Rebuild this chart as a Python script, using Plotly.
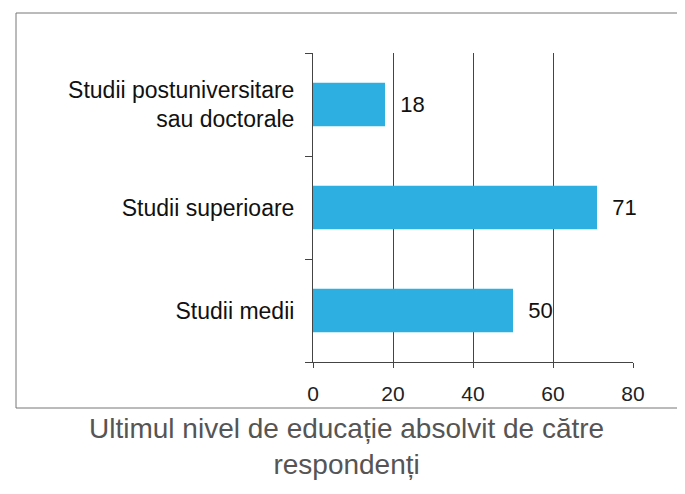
import plotly.graph_objects as go

categorii = ["Studii medii", "Studii superioare", "Studii postuniversitare<br>sau doctorale"]
valori = [50, 71, 18]
x_ticks = [0, 20, 40, 60, 80]

L, R, T, B = 305, 60, 45, 140
W, H = 685, 494
pw = W - L - R
ph = H - T - B


def px(x):
    return (x - L) / pw


def py(y):
    return (H - B - y) / ph


fig = go.Figure(go.Bar(
    x=valori,
    y=categorii,
    orientation="h",
    marker=dict(color="#2eafe2", line=dict(width=0)),
    width=0.42,
    text=["  " + str(v) for v in valori],
    textposition="outside",
    textfont=dict(size=22, color="#111111", family="Liberation Sans, Arial"),
    cliponaxis=False,
))

fig.update_layout(
    width=W,
    height=H,
    margin=dict(l=L, r=R, t=T, b=B),
    paper_bgcolor="white",
    plot_bgcolor="white",
    showlegend=False,
    font=dict(family="Liberation Sans, Arial", color="#111111"),
    xaxis=dict(
        range=[0, 80],
        tickvals=x_ticks,
        showgrid=True,
        gridcolor="#444444",
        gridwidth=1,
        zeroline=False,
        showline=True,
        linecolor="#444444",
        ticks="outside",
        ticklen=5,
        tickcolor="#444444",
        tickfont=dict(size=21, color="#222222"),
        ticklabelstandoff=8,
    ),
    yaxis=dict(
        showline=True,
        linecolor="#444444",
        ticks="outside",
        tickson="boundaries",
        ticklen=7,
        tickcolor="#444444",
        tickfont=dict(size=23, color="#111111"),
        ticklabelstandoff=13,
        showgrid=False,
    ),
    shapes=[dict(
        type="rect", xref="paper", yref="paper",
        x0=px(8), x1=px(680), y0=py(400), y1=py(5),
        line=dict(color="#777777", width=1),
    )],
    annotations=[dict(
        text="Ultimul nivel de educație absolvit de către<br>respondenți",
        xref="paper", yref="paper",
        x=px(338), y=py(403),
        xanchor="center", yanchor="top",
        showarrow=False,
        font=dict(size=28, color="#555555", family="Liberation Sans, Arial"),
    )],
)

fig.write_html("out.html")
